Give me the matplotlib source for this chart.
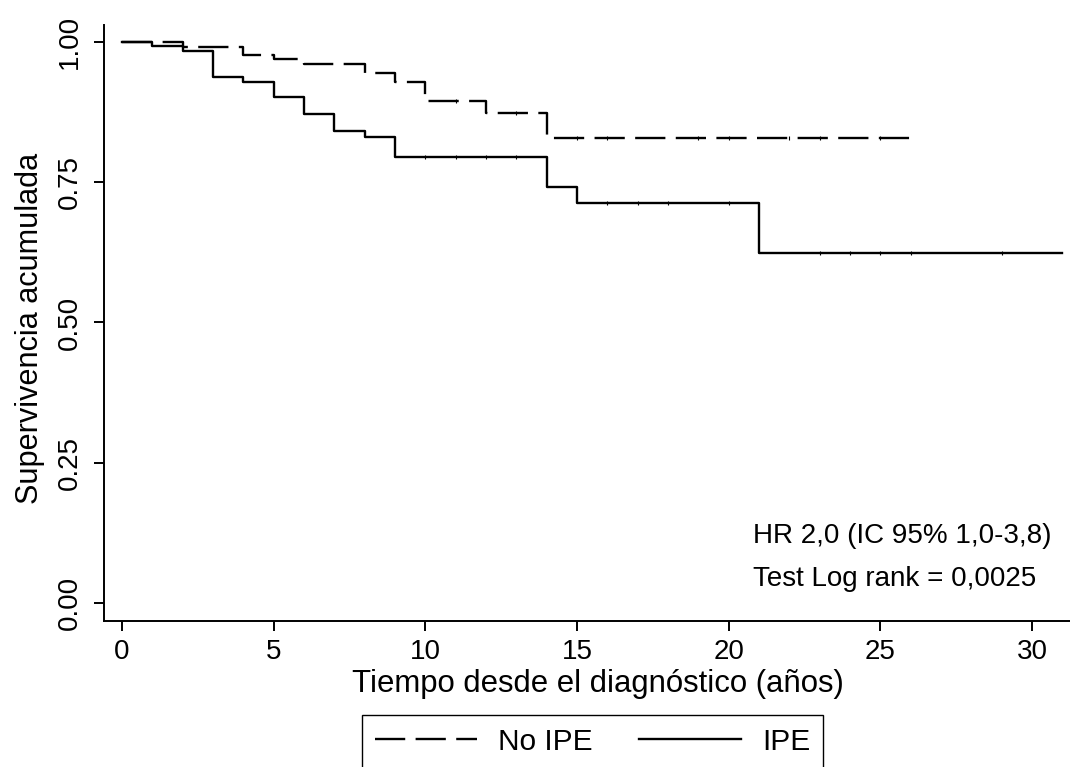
import matplotlib
matplotlib.use("Agg")
import matplotlib.pyplot as plt
from matplotlib.lines import Line2D

plt.rcParams['font.family'] = ['Liberation Sans', 'DejaVu Sans']

# Kaplan-Meier data
ipe_time = [0, 1, 2, 3, 4, 5, 6, 7, 8, 9, 14, 15, 21, 31]
ipe_surv = [1.0, 0.993, 0.984, 0.938, 0.929, 0.902, 0.872, 0.841, 0.831, 0.795, 0.742, 0.713, 0.624, 0.624]
ipe_cens_time = [10, 11, 12, 13, 16, 17, 18, 20, 23, 24, 25, 26, 29]

noipe_time = [0, 2, 4, 5, 6, 8, 9, 10, 12, 14, 26]
noipe_surv = [1.0, 0.991, 0.977, 0.970, 0.961, 0.945, 0.929, 0.895, 0.873, 0.829, 0.829]
noipe_cens_time = [11, 13, 15, 16, 19, 20, 22, 23, 25]

x_ticks = [0, 5, 10, 15, 20, 25, 30]
y_ticks = [0.0, 0.25, 0.5, 0.75, 1.0]
y_ticklabels = ["0.00", "0.25", "0.50", "0.75", "1.00"]

legend_labels = ["No IPE", "IPE"]
annot_lines = ["HR 2,0 (IC 95% 1,0-3,8)", "Test Log rank = 0,0025"]


def surv_at(times, survs, t):
    v = survs[0]
    for ti, si in zip(times, survs):
        if ti <= t:
            v = si
    return v


fig = plt.figure(figsize=(10.70, 7.67), dpi=100)
ax = fig.add_axes([104 / 1070, (767 - 621) / 767, 1 - 104 / 1070, (621 - 25) / 767])

lw = 1.7
dash = (0, (12.8, 4.4))
ax.step(noipe_time, noipe_surv, where='post', color='black', lw=lw, linestyle=dash)
ax.step(ipe_time, ipe_surv, where='post', color='black', lw=lw)

# censoring marks
ax.plot(ipe_cens_time, [surv_at(ipe_time, ipe_surv, t) for t in ipe_cens_time],
        linestyle='none', marker='|', color='black', ms=3, mew=0.8)
ax.plot(noipe_cens_time, [surv_at(noipe_time, noipe_surv, t) for t in noipe_cens_time],
        linestyle='none', marker='|', color='black', ms=3, mew=0.8)

ax.set_xlim(-0.59, 31.25)
ax.set_ylim(-0.032, 1.030)

for s in ['top', 'right']:
    ax.spines[s].set_visible(False)
for s in ['left', 'bottom']:
    ax.spines[s].set_linewidth(1.4)

fs = 20
ax.set_xticks(x_ticks)
ax.set_xticklabels([str(t) for t in x_ticks], fontsize=fs)
ax.set_yticks(y_ticks)
ax.set_yticklabels(y_ticklabels, fontsize=fs, rotation=90, va='center')
ax.tick_params(axis='both', direction='out', length=7.2, width=1.4)
ax.tick_params(axis='x', pad=6)
ax.tick_params(axis='y', pad=8)

ax.set_xlabel("Tiempo desde el diagnóstico (años)", fontsize=22.4)
ax.set_ylabel("Supervivencia acumulada", fontsize=22.1)
ax.xaxis.set_label_coords(0.511, -0.080)
ax.yaxis.set_label_coords(-0.061, 0.4916)

ax.text(20.8, 0.107, annot_lines[0], fontsize=fs, va='baseline', ha='left')
ax.text(20.8, 0.030, annot_lines[1], fontsize=fs, va='baseline', ha='left')

handles = [Line2D([], [], color='black', lw=lw, linestyle=dash),
           Line2D([], [], color='black', lw=lw)]
leg = fig.legend(handles, legend_labels, loc='upper center',
                 bbox_to_anchor=(592.5 / 1070, (767 - 715) / 767),
                 ncol=2, fontsize=21.5, frameon=True, fancybox=False,
                 edgecolor='black', framealpha=1, handlelength=3.41,
                 handletextpad=0.70, columnspacing=1.57, borderpad=0.43,
                 borderaxespad=0)
leg.get_frame().set_linewidth(1.0)

fig.savefig("out.png", dpi=100)
